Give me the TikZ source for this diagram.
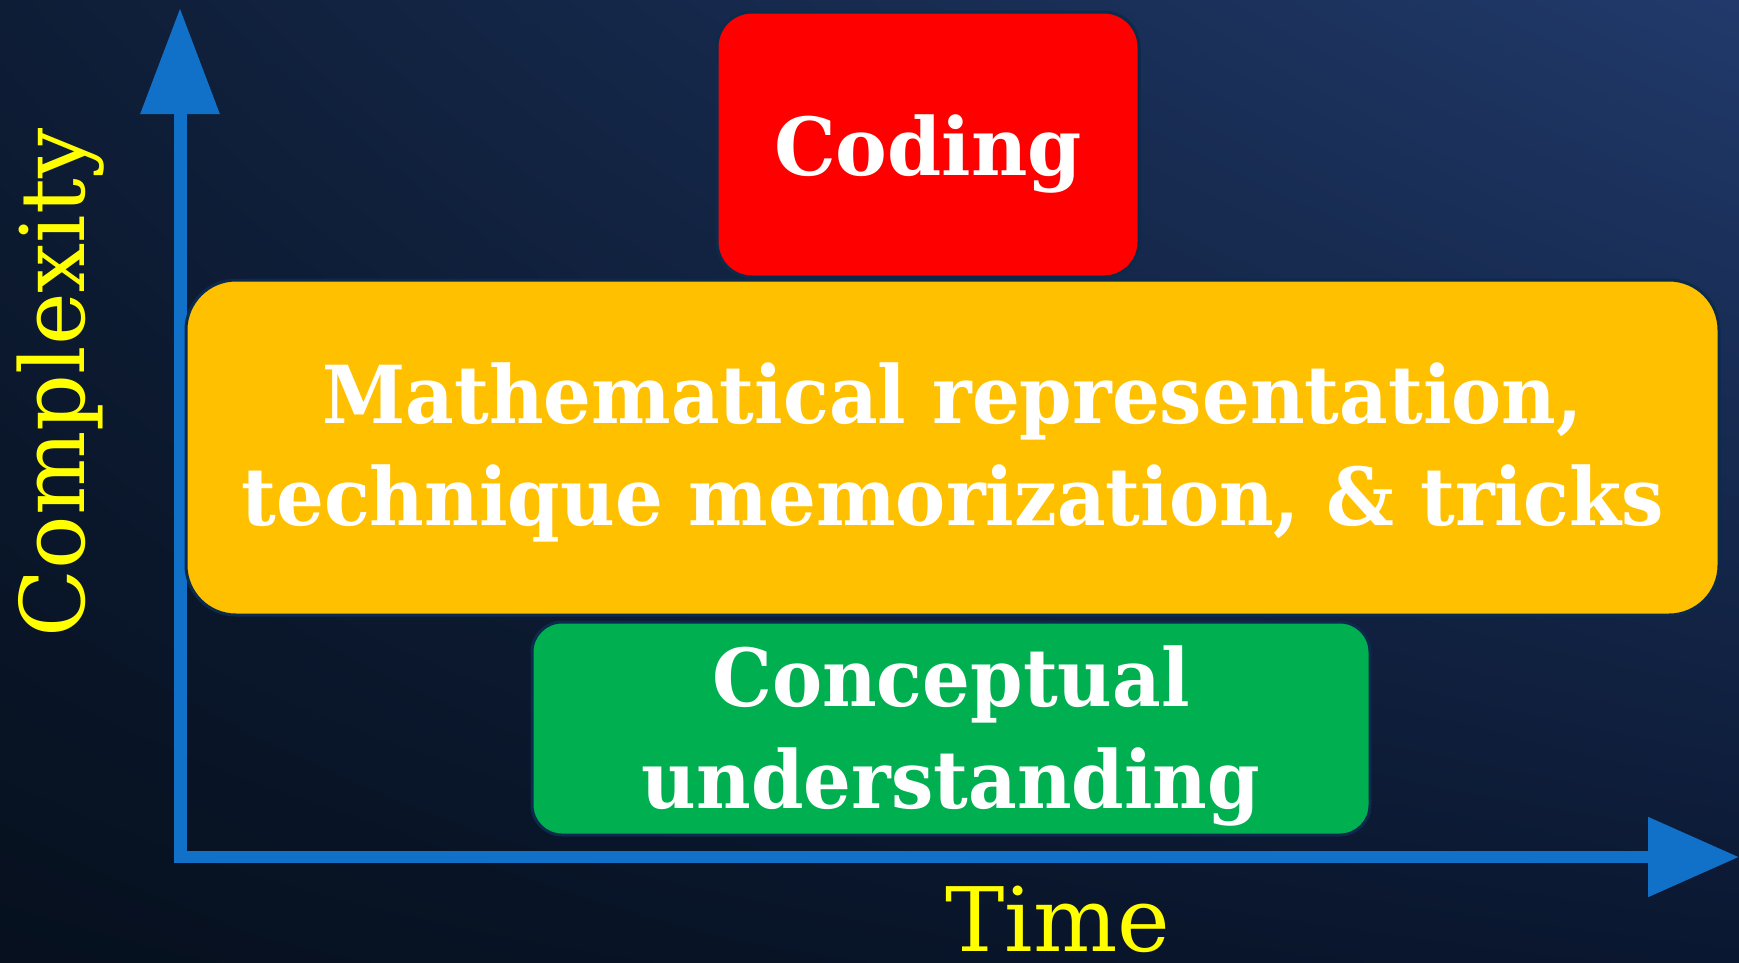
\documentclass[tikz,border=0pt]{standalone}
\usepackage{fontspec}
\usetikzlibrary{arrows.meta,shadings}
\newfontfamily\slabfont{DejaVu Serif}
\newfontfamily\slabnarrow[FakeStretch=0.94]{DejaVu Serif}
\newfontfamily\slabcoding[FakeStretch=0.97]{DejaVu Serif}
\definecolor{bgUL}{HTML}{0E1D36}
\definecolor{bgUR}{HTML}{213A6B}
\definecolor{bgLL}{HTML}{06101E}
\definecolor{bgLR}{HTML}{0A1730}
\definecolor{axisblue}{HTML}{1170C8}
\definecolor{boxedge}{HTML}{0B2A4C}
\definecolor{codred}{HTML}{FF0000}
\definecolor{mathyellow}{HTML}{FFC000}
\definecolor{concgreen}{HTML}{00B050}
\definecolor{labelyellow}{HTML}{FFFF00}
\tikzset{
  axisline/.style={draw=axisblue, line width=13pt, line cap=butt},
  stagebox/.style={draw=boxedge, line width=3pt, inner sep=0pt},
  boxtext/.style={inner sep=0pt, align=center, text=white,
    font=\slabnarrow\bfseries\fontsize{80}{102}\selectfont},
  axislabel/.style={text=labelyellow, inner sep=0pt, font=\slabfont\fontsize{89}{100}\selectfont}
}
\begin{document}
\begin{tikzpicture}[x=1pt,y=1pt]
\useasboundingbox (0,0) rectangle (1739,-962);
\shade[upper left=bgUL, upper right=bgUR, lower left=bgLL, lower right=bgLR] (0,0) rectangle (1739,-962);
% axes
\coordinate (origin) at (180,-857);
\coordinate (ytip) at (180,-8);
\coordinate (xstart) at (174,-857);
\coordinate (xtip) at (1739,-857);
\draw[axisline, -{Triangle[length=106pt,width=76pt]}] (origin) -- (ytip);
\draw[axisline, line width=12pt, -{Triangle[length=91pt,width=77pt]}] (xstart) -- (xtip);
% boxes
\node[stagebox, fill=codred, rounded corners=35pt, minimum width=422pt, minimum height=265pt] (coding) at (928,-144.5) {};
\node[stagebox, fill=mathyellow, rounded corners=50pt, minimum width=1533pt, minimum height=335pt] (math) at (952.5,-447.5) {};
\node[stagebox, fill=concgreen, rounded corners=30pt, minimum width=838pt, minimum height=213pt] (concept) at (951,-728.5) {};
% box texts
\node[boxtext, font=\slabcoding\bfseries\fontsize{80}{102}\selectfont] (codingtext) at ([yshift=-9pt]coding.center) {Coding};
\node[boxtext] (mathtext) at ([yshift=-5pt]math.center) {Mathematical representation,\\technique memorization, \& tricks};
\node[boxtext] (concepttext) at ([yshift=-7pt]concept.center) {Conceptual\\understanding};
% labels
\node[axislabel, anchor=base] (time) at (1058,-951) {Time};
\node[axislabel, anchor=base, rotate=90] (complexity) at (84,-383) {Complexity};
\end{tikzpicture}
\end{document}
